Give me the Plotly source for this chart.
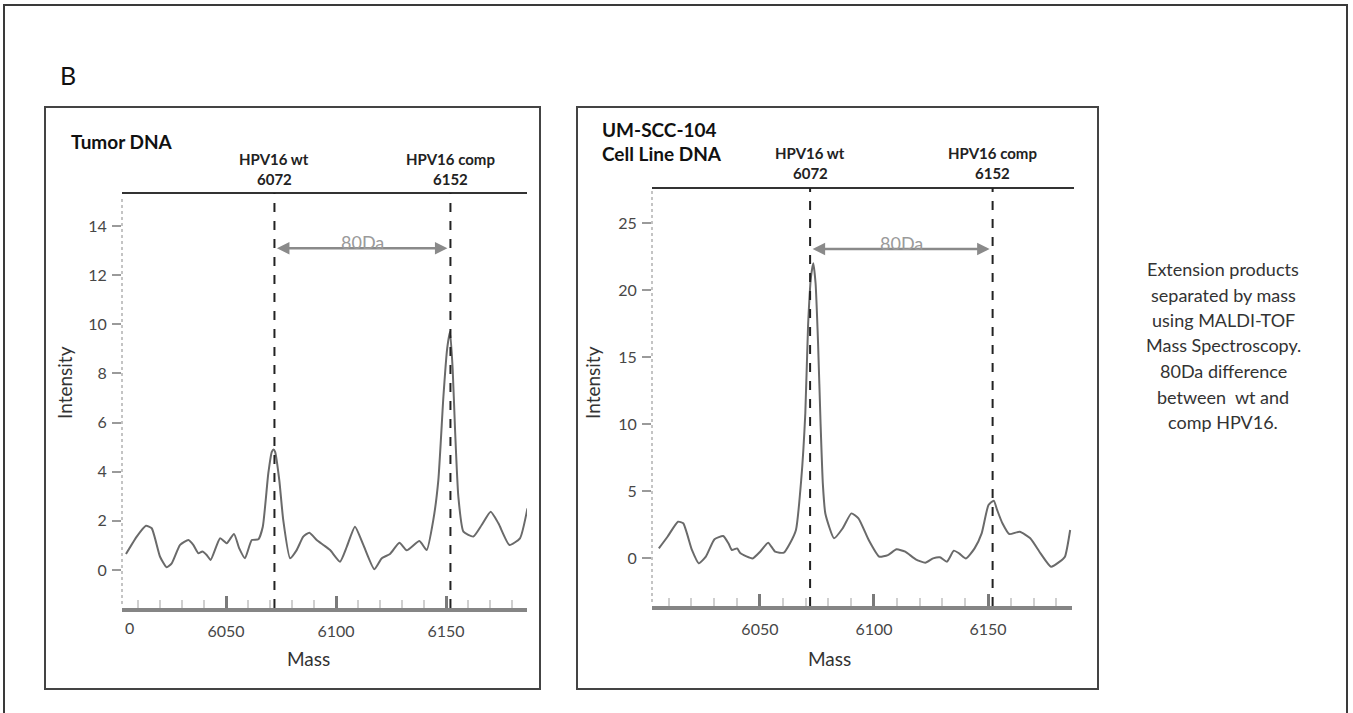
import plotly.graph_objects as go

# ---------------- data ----------------
left_mass = [6004.5, 6009.4, 6013.6, 6016.2, 6020.0, 6023.0, 6025.3, 6029.1, 6032.9, 6035.1, 6037.4, 6039.2,
             6041.2, 6043.0, 6047.3, 6050.3, 6053.6, 6056.0, 6058.6, 6061.7, 6064.7, 6066.7, 6069.2, 6070.8,
             6071.6, 6072.3, 6074.2, 6076.0, 6079.1, 6082.1, 6085.1, 6087.9, 6091.2, 6094.2, 6097.3, 6101.8,
             6104.9, 6108.6, 6112.4, 6117.4, 6120.8, 6124.5, 6128.8, 6132.1, 6137.9, 6141.2, 6144.2, 6146.5,
             6148.8, 6150.5, 6151.8, 6153.0, 6154.1, 6155.6, 6157.9, 6162.4, 6166.2, 6170.3, 6173.8, 6178.8,
             6183.6, 6187.0]
left_intensity = [0.65, 1.36, 1.8, 1.7, 0.54, 0.11, 0.27, 1.02, 1.22, 1.02, 0.68, 0.75,
                  0.61, 0.41, 1.29, 1.09, 1.47, 0.88, 0.48, 1.22, 1.25, 1.76, 3.93, 4.81,
                  4.9, 4.81, 3.66, 2.03, 0.48, 0.81, 1.36, 1.52, 1.22, 1.02, 0.81, 0.34,
                  0.95, 1.76, 1.02, 0.03, 0.48, 0.65, 1.11, 0.8, 1.18, 0.81, 2.03, 3.66,
                  7.05, 9.0, 9.7, 8.2, 5.7, 2.98, 1.56, 1.36, 1.83, 2.37, 1.9, 1.02,
                  1.29, 2.51]

right_mass = [6005.7, 6009.5, 6014.1, 6016.4, 6020.2, 6023.2, 6026.3, 6030.1, 6033.9, 6036.2, 6037.7, 6040.0,
              6041.5, 6046.8, 6050.1, 6053.6, 6056.7, 6060.5, 6063.2, 6065.8, 6068.1, 6069.9, 6071.1, 6072.4,
              6073.4, 6074.4, 6075.5, 6076.6, 6077.6, 6078.7, 6082.5, 6086.3, 6090.1, 6093.2, 6097.7, 6102.3,
              6106.1, 6109.9, 6113.7, 6118.3, 6122.5, 6125.9, 6128.9, 6132.0, 6135.0, 6137.3, 6140.3, 6144.1,
              6147.2, 6150.2, 6152.5, 6154.0, 6156.3, 6159.3, 6163.9, 6168.5, 6173.0, 6177.6, 6181.4, 6183.7,
              6186.0]
right_intensity = [0.72, 1.59, 2.71, 2.59, 0.6, -0.4, 0.1, 1.4, 1.64, 1.1, 0.6, 0.72,
                   0.35, -0.03, 0.47, 1.14, 0.47, 0.4, 1.1, 2.09, 5.82, 10.8, 17.3, 21.0,
                   22.0, 20.5, 16.0, 10.0, 5.5, 3.3, 1.47, 2.22, 3.33, 2.96, 1.34, 0.1,
                   0.22, 0.65, 0.47, -0.1, -0.35, -0.03, 0.05, -0.27, 0.55, 0.35, -0.03, 0.72,
                   1.84, 3.96, 4.28, 3.58, 2.59, 1.79, 1.96, 1.47, 0.35, -0.65, -0.27, 0.1,
                   2.09]

marker_mass = [6072, 6152]
marker_names = ["HPV16 wt", "HPV16 comp"]
mass_ticks = [6050, 6100, 6150]
left_yticks = [0, 2, 4, 6, 8, 10, 12, 14]
right_yticks = [0, 5, 10, 15, 20, 25]
arrow_y = [13.1, 23.06]
diff_label = "80Da"
panel_titles = ["Tumor DNA", "UM-SCC-104", "Cell Line DNA"]
side_text = ["Extension products", "separated by mass", "using MALDI-TOF", "Mass Spectroscopy.",
             "80Da difference", "between  wt and", "comp HPV16."]

# ---------------- geometry helpers ----------------
W, H = 1353, 713
FONT = "Lato, Open Sans, sans-serif"


def px(x):
    return x / W


def py(y):
    return 1 - y / H


fig = go.Figure()

fig.add_trace(go.Scatter(x=left_mass, y=left_intensity, mode="lines", xaxis="x", yaxis="y",
                         line=dict(color="#6a6a6a", width=2, shape="spline", smoothing=0.5),
                         showlegend=False, hoverinfo="skip"))
fig.add_trace(go.Scatter(x=right_mass, y=right_intensity, mode="lines", xaxis="x2", yaxis="y2",
                         line=dict(color="#6a6a6a", width=2, shape="spline", smoothing=0.5),
                         showlegend=False, hoverinfo="skip"))

xrange = [6002.7, 6186.8]
TICKFONT = dict(family=FONT, size=16, color="#474747")
xcommon = dict(range=xrange, tickvals=mass_ticks, ticks="inside", ticklen=12, tickwidth=3,
               tickcolor="#7a7a7a", showgrid=False, zeroline=False, showline=True,
               linecolor="#858585", linewidth=4, ticklabelstandoff=6, tickfont=TICKFONT,
               minor=dict(dtick=10, tick0=6000, ticks="inside", ticklen=8, tickcolor="#cfcfcf",
                          tickwidth=1.5, showgrid=False),
               fixedrange=True)
ycommon = dict(ticks="outside", ticklen=9, tickwidth=1.5, tickcolor="#9a9a9a", showgrid=False,
               zeroline=False, showline=False, ticklabelstandoff=2, tickfont=TICKFONT, fixedrange=True)

# left plot area: x 122..527, y 193..608 ; right: x 652..1072, y 188..606
L = dict(x0=122, x1=527, y0=193, y1=608)
R = dict(x0=652, x1=1072, y0=188, y1=606)

fig.update_layout(
    width=W, height=H, margin=dict(l=0, r=0, t=0, b=0),
    paper_bgcolor="white", plot_bgcolor="rgba(0,0,0,0)",
    xaxis=dict(domain=[px(L["x0"]), px(L["x1"])], anchor="y", **xcommon),
    yaxis=dict(domain=[py(L["y1"]), py(L["y0"])], anchor="x", range=[-1.547, 15.344],
               tickvals=left_yticks, **ycommon),
    xaxis2=dict(domain=[px(R["x0"]), px(R["x1"])], anchor="y2", **xcommon),
    yaxis2=dict(domain=[py(R["y1"]), py(R["y0"])], anchor="x2", range=[-3.58, 27.61],
                tickvals=right_yticks, **ycommon),
)

shapes = []
# outer frame and panel frames
shapes.append(dict(type="rect", xref="paper", yref="paper", x0=px(4), x1=px(1347), y0=py(730), y1=py(5),
                   line=dict(color="#3a3a3a", width=2)))
for (a, b) in [(45, 540), (577, 1098)]:
    shapes.append(dict(type="rect", xref="paper", yref="paper", x0=px(a), x1=px(b), y0=py(689), y1=py(107),
                       line=dict(color="#444444", width=2)))

for G, xr, yr, top_end in [(L, "x", "y", 527), (R, "x2", "y2", 1074)]:
    # top dark line
    shapes.append(dict(type="line", xref="paper", yref="paper", x0=px(G["x0"]), x1=px(top_end),
                       y0=py(G["y0"]), y1=py(G["y0"]), line=dict(color="#333333", width=2)))
    # dotted y axis line
    shapes.append(dict(type="line", xref="paper", yref="paper", x0=px(G["x0"]), x1=px(G["x0"]),
                       y0=py(G["y1"] - 4), y1=py(G["y0"] + 3), line=dict(color="#c4c4c4", width=2, dash="dot")))
    # dashed marker lines
    for m in marker_mass:
        shapes.append(dict(type="line", xref=xr, yref=yr + " domain", x0=m, x1=m, y0=0, y1=1,
                           line=dict(color="#222222", width=2, dash="dash")))
fig.update_layout(shapes=shapes)

ann = []
ann.append(dict(text="B", x=px(58), y=py(75), xref="paper", yref="paper", xanchor="left", yanchor="middle",
                showarrow=False, font=dict(family=FONT, size=25, color="#111111")))
for txt, x0, y0 in [(panel_titles[0], 69, 142), (panel_titles[1], 600, 129), (panel_titles[2], 600, 153)]:
    ann.append(dict(text="<b>" + txt + "</b>", x=px(x0), y=py(y0), xref="paper", yref="paper",
                    xanchor="left", yanchor="middle", showarrow=False,
                    font=dict(family=FONT, size=19, color="#111111")))

for xr, y1, y2, ay in [("x", 159, 179, arrow_y[0]), ("x2", 153, 173, arrow_y[1])]:
    for m, nm in zip(marker_mass, marker_names):
        ann.append(dict(text="<b>" + nm + "</b>", x=m, xref=xr, y=py(y1), yref="paper", showarrow=False,
                        xanchor="center", yanchor="middle", font=dict(family=FONT, size=15, color="#222222")))
        ann.append(dict(text="<b>" + str(m) + "</b>", x=m, xref=xr, y=py(y2), yref="paper", showarrow=False,
                        xanchor="center", yanchor="middle", font=dict(family=FONT, size=15, color="#222222")))
    yr = "y" if xr == "x" else "y2"
    ann.append(dict(text="", x=marker_mass[1], y=ay, xref=xr, yref=yr, ax=marker_mass[0], ay=ay,
                    axref=xr, ayref=yr, showarrow=True, arrowhead=2, arrowside="end+start", arrowsize=1,
                    arrowwidth=2.5, arrowcolor="#8a8a8a", standoff=3, startstandoff=1))
    ann.append(dict(text=diff_label, x=(marker_mass[0] + marker_mass[1]) / 2, y=ay, xref=xr, yref=yr,
                    yshift=6, showarrow=False, xanchor="center", yanchor="middle",
                    font=dict(family=FONT, size=18, color="#9a9a9a")))

# left panel truncated "0" tick label
ann.append(dict(text="0", x=6005.9, xref="x", y=py(627), yref="paper", showarrow=False,
                xanchor="center", yanchor="middle", font=TICKFONT))

# axis titles
for cx, cy in [(65, 383), (593, 383)]:
    ann.append(dict(text="Intensity", x=px(cx), y=py(cy), xref="paper", yref="paper", textangle=-90,
                    showarrow=False, xanchor="center", yanchor="middle",
                    font=dict(family=FONT, size=19, color="#333333")))
for cx in [308, 830]:
    ann.append(dict(text="Mass", x=px(cx), y=py(658), xref="paper", yref="paper", showarrow=False,
                    xanchor="center", yanchor="middle", font=dict(family=FONT, size=19, color="#333333")))

for i, line in enumerate(side_text):
    ann.append(dict(text=line, x=px(1223), y=py(269 + i * 25.5), xref="paper", yref="paper", showarrow=False,
                    xanchor="center", yanchor="middle", font=dict(family=FONT, size=18, color="#333333")))

fig.update_layout(annotations=ann)

fig.write_html("out.html", config={"displayModeBar": False},
               post_script="document.body.style.margin='0';")
